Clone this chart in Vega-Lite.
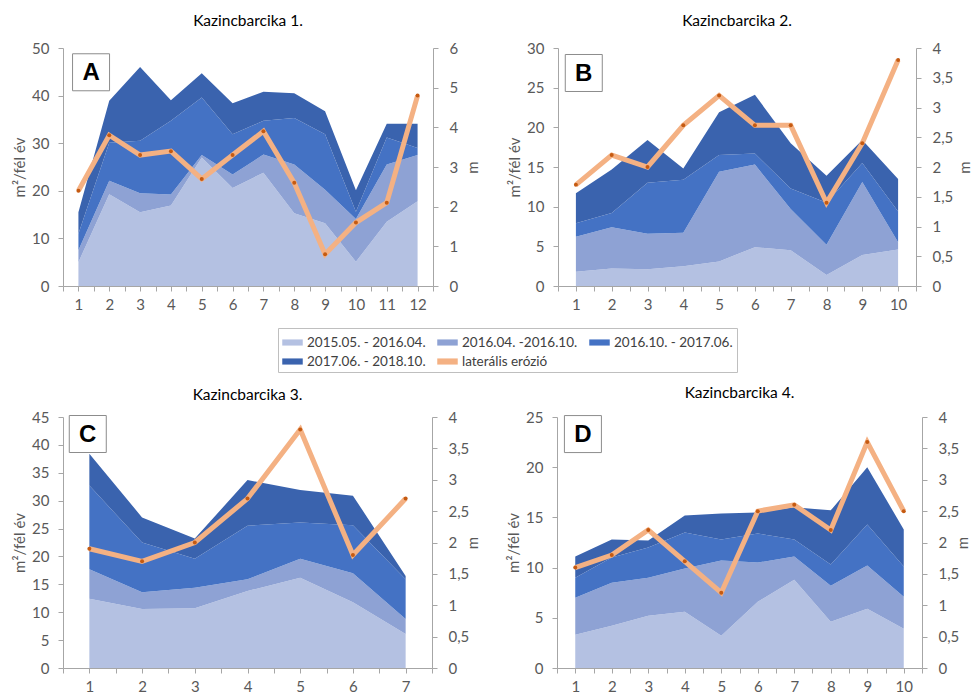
{
  "$schema": "https://vega.github.io/schema/vega-lite/v6.json",
  "background": "white",
  "padding": {"left": 12, "top": 13, "right": 0, "bottom": 0},
  "config": {
    "font": "Lato",
    "view": {"stroke": null},
    "axis": {"grid": false, "domainColor": "#a6a6a6", "tickColor": "#a6a6a6", "labelColor": "#595959", "labelFontSize": 15, "titleColor": "#595959", "titleFontSize": 15, "titleFontWeight": "normal", "tickSize": 5, "labelFont": "Lato", "titleFont": "Lato"},
    "title": {"fontSize": 15.5, "fontWeight": "normal", "color": "#000000", "font": "Lato"}
  },
  "datasets": {
    "areas": [
      {"panel":"A","x":1,"period":"2015.05. - 2016.04.","v":5},{"panel":"A","x":1,"period":"2016.04. -2016.10.","v":2.5},{"panel":"A","x":1,"period":"2016.10. - 2017.06.","v":3.5},{"panel":"A","x":1,"period":"2017.06. - 2018.10.","v":4.5},
      {"panel":"A","x":2,"period":"2015.05. - 2016.04.","v":19.3},{"panel":"A","x":2,"period":"2016.04. -2016.10.","v":2.8},{"panel":"A","x":2,"period":"2016.10. - 2017.06.","v":8},{"panel":"A","x":2,"period":"2017.06. - 2018.10.","v":8.8},
      {"panel":"A","x":3,"period":"2015.05. - 2016.04.","v":15.5},{"panel":"A","x":3,"period":"2016.04. -2016.10.","v":4},{"panel":"A","x":3,"period":"2016.10. - 2017.06.","v":11},{"panel":"A","x":3,"period":"2017.06. - 2018.10.","v":15.5},
      {"panel":"A","x":4,"period":"2015.05. - 2016.04.","v":16.9},{"panel":"A","x":4,"period":"2016.04. -2016.10.","v":2.3},{"panel":"A","x":4,"period":"2016.10. - 2017.06.","v":15.5},{"panel":"A","x":4,"period":"2017.06. - 2018.10.","v":4.3},
      {"panel":"A","x":5,"period":"2015.05. - 2016.04.","v":27},{"panel":"A","x":5,"period":"2016.04. -2016.10.","v":0.5},{"panel":"A","x":5,"period":"2016.10. - 2017.06.","v":12.1},{"panel":"A","x":5,"period":"2017.06. - 2018.10.","v":5.1},
      {"panel":"A","x":6,"period":"2015.05. - 2016.04.","v":20.6},{"panel":"A","x":6,"period":"2016.04. -2016.10.","v":2.8},{"panel":"A","x":6,"period":"2016.10. - 2017.06.","v":8.5},{"panel":"A","x":6,"period":"2017.06. - 2018.10.","v":6.5},
      {"panel":"A","x":7,"period":"2015.05. - 2016.04.","v":23.8},{"panel":"A","x":7,"period":"2016.04. -2016.10.","v":3.8},{"panel":"A","x":7,"period":"2016.10. - 2017.06.","v":7.1},{"panel":"A","x":7,"period":"2017.06. - 2018.10.","v":6.1},
      {"panel":"A","x":8,"period":"2015.05. - 2016.04.","v":15.3},{"panel":"A","x":8,"period":"2016.04. -2016.10.","v":10.2},{"panel":"A","x":8,"period":"2016.10. - 2017.06.","v":9.8},{"panel":"A","x":8,"period":"2017.06. - 2018.10.","v":5.2},
      {"panel":"A","x":9,"period":"2015.05. - 2016.04.","v":13.2},{"panel":"A","x":9,"period":"2016.04. -2016.10.","v":7},{"panel":"A","x":9,"period":"2016.10. - 2017.06.","v":11.7},{"panel":"A","x":9,"period":"2017.06. - 2018.10.","v":4.8},
      {"panel":"A","x":10,"period":"2015.05. - 2016.04.","v":5.1},{"panel":"A","x":10,"period":"2016.04. -2016.10.","v":9},{"panel":"A","x":10,"period":"2016.10. - 2017.06.","v":1.5},{"panel":"A","x":10,"period":"2017.06. - 2018.10.","v":4.5},
      {"panel":"A","x":11,"period":"2015.05. - 2016.04.","v":13.5},{"panel":"A","x":11,"period":"2016.04. -2016.10.","v":12},{"panel":"A","x":11,"period":"2016.10. - 2017.06.","v":5.7},{"panel":"A","x":11,"period":"2017.06. - 2018.10.","v":2.9},
      {"panel":"A","x":12,"period":"2015.05. - 2016.04.","v":17.8},{"panel":"A","x":12,"period":"2016.04. -2016.10.","v":9.7},{"panel":"A","x":12,"period":"2016.10. - 2017.06.","v":1.5},{"panel":"A","x":12,"period":"2017.06. - 2018.10.","v":5.1},
      {"panel":"B","x":1,"period":"2015.05. - 2016.04.","v":1.8},{"panel":"B","x":1,"period":"2016.04. -2016.10.","v":4.4},{"panel":"B","x":1,"period":"2016.10. - 2017.06.","v":1.7},{"panel":"B","x":1,"period":"2017.06. - 2018.10.","v":3.8},
      {"panel":"B","x":2,"period":"2015.05. - 2016.04.","v":2.2},{"panel":"B","x":2,"period":"2016.04. -2016.10.","v":5.2},{"panel":"B","x":2,"period":"2016.10. - 2017.06.","v":1.8},{"panel":"B","x":2,"period":"2017.06. - 2018.10.","v":5.5},
      {"panel":"B","x":3,"period":"2015.05. - 2016.04.","v":2.1},{"panel":"B","x":3,"period":"2016.04. -2016.10.","v":4.5},{"panel":"B","x":3,"period":"2016.10. - 2017.06.","v":6.4},{"panel":"B","x":3,"period":"2017.06. - 2018.10.","v":5.4},
      {"panel":"B","x":4,"period":"2015.05. - 2016.04.","v":2.5},{"panel":"B","x":4,"period":"2016.04. -2016.10.","v":4.2},{"panel":"B","x":4,"period":"2016.10. - 2017.06.","v":6.7},{"panel":"B","x":4,"period":"2017.06. - 2018.10.","v":1.4},
      {"panel":"B","x":5,"period":"2015.05. - 2016.04.","v":3.1},{"panel":"B","x":5,"period":"2016.04. -2016.10.","v":11.3},{"panel":"B","x":5,"period":"2016.10. - 2017.06.","v":2.1},{"panel":"B","x":5,"period":"2017.06. - 2018.10.","v":5.4},
      {"panel":"B","x":6,"period":"2015.05. - 2016.04.","v":4.9},{"panel":"B","x":6,"period":"2016.04. -2016.10.","v":10.4},{"panel":"B","x":6,"period":"2016.10. - 2017.06.","v":1.4},{"panel":"B","x":6,"period":"2017.06. - 2018.10.","v":7.4},
      {"panel":"B","x":7,"period":"2015.05. - 2016.04.","v":4.5},{"panel":"B","x":7,"period":"2016.04. -2016.10.","v":5.2},{"panel":"B","x":7,"period":"2016.10. - 2017.06.","v":2.6},{"panel":"B","x":7,"period":"2017.06. - 2018.10.","v":5.7},
      {"panel":"B","x":8,"period":"2015.05. - 2016.04.","v":1.4},{"panel":"B","x":8,"period":"2016.04. -2016.10.","v":3.8},{"panel":"B","x":8,"period":"2016.10. - 2017.06.","v":5.3},{"panel":"B","x":8,"period":"2017.06. - 2018.10.","v":3.4},
      {"panel":"B","x":9,"period":"2015.05. - 2016.04.","v":3.9},{"panel":"B","x":9,"period":"2016.04. -2016.10.","v":9.2},{"panel":"B","x":9,"period":"2016.10. - 2017.06.","v":2.4},{"panel":"B","x":9,"period":"2017.06. - 2018.10.","v":2.9},
      {"panel":"B","x":10,"period":"2015.05. - 2016.04.","v":4.6},{"panel":"B","x":10,"period":"2016.04. -2016.10.","v":0.9},{"panel":"B","x":10,"period":"2016.10. - 2017.06.","v":3.9},{"panel":"B","x":10,"period":"2017.06. - 2018.10.","v":4.1},
      {"panel":"C","x":1,"period":"2015.05. - 2016.04.","v":12.4},{"panel":"C","x":1,"period":"2016.04. -2016.10.","v":5.3},{"panel":"C","x":1,"period":"2016.10. - 2017.06.","v":15},{"panel":"C","x":1,"period":"2017.06. - 2018.10.","v":5.7},
      {"panel":"C","x":2,"period":"2015.05. - 2016.04.","v":10.6},{"panel":"C","x":2,"period":"2016.04. -2016.10.","v":3},{"panel":"C","x":2,"period":"2016.10. - 2017.06.","v":8.9},{"panel":"C","x":2,"period":"2017.06. - 2018.10.","v":4.5},
      {"panel":"C","x":3,"period":"2015.05. - 2016.04.","v":10.7},{"panel":"C","x":3,"period":"2016.04. -2016.10.","v":3.7},{"panel":"C","x":3,"period":"2016.10. - 2017.06.","v":5.2},{"panel":"C","x":3,"period":"2017.06. - 2018.10.","v":3.6},
      {"panel":"C","x":4,"period":"2015.05. - 2016.04.","v":13.8},{"panel":"C","x":4,"period":"2016.04. -2016.10.","v":2.1},{"panel":"C","x":4,"period":"2016.10. - 2017.06.","v":9.6},{"panel":"C","x":4,"period":"2017.06. - 2018.10.","v":8.2},
      {"panel":"C","x":5,"period":"2015.05. - 2016.04.","v":16.2},{"panel":"C","x":5,"period":"2016.04. -2016.10.","v":3.4},{"panel":"C","x":5,"period":"2016.10. - 2017.06.","v":6.5},{"panel":"C","x":5,"period":"2017.06. - 2018.10.","v":5.8},
      {"panel":"C","x":6,"period":"2015.05. - 2016.04.","v":11.8},{"panel":"C","x":6,"period":"2016.04. -2016.10.","v":5.2},{"panel":"C","x":6,"period":"2016.10. - 2017.06.","v":8.6},{"panel":"C","x":6,"period":"2017.06. - 2018.10.","v":5.3},
      {"panel":"C","x":7,"period":"2015.05. - 2016.04.","v":6.1},{"panel":"C","x":7,"period":"2016.04. -2016.10.","v":2.7},{"panel":"C","x":7,"period":"2016.10. - 2017.06.","v":7.1},{"panel":"C","x":7,"period":"2017.06. - 2018.10.","v":0.6},
      {"panel":"D","x":1,"period":"2015.05. - 2016.04.","v":3.3},{"panel":"D","x":1,"period":"2016.04. -2016.10.","v":3.7},{"panel":"D","x":1,"period":"2016.10. - 2017.06.","v":2},{"panel":"D","x":1,"period":"2017.06. - 2018.10.","v":2.1},
      {"panel":"D","x":2,"period":"2015.05. - 2016.04.","v":4.2},{"panel":"D","x":2,"period":"2016.04. -2016.10.","v":4.3},{"panel":"D","x":2,"period":"2016.10. - 2017.06.","v":2.5},{"panel":"D","x":2,"period":"2017.06. - 2018.10.","v":1.8},
      {"panel":"D","x":3,"period":"2015.05. - 2016.04.","v":5.2},{"panel":"D","x":3,"period":"2016.04. -2016.10.","v":3.8},{"panel":"D","x":3,"period":"2016.10. - 2017.06.","v":3},{"panel":"D","x":3,"period":"2017.06. - 2018.10.","v":0.7},
      {"panel":"D","x":4,"period":"2015.05. - 2016.04.","v":5.6},{"panel":"D","x":4,"period":"2016.04. -2016.10.","v":4.3},{"panel":"D","x":4,"period":"2016.10. - 2017.06.","v":3.6},{"panel":"D","x":4,"period":"2017.06. - 2018.10.","v":1.7},
      {"panel":"D","x":5,"period":"2015.05. - 2016.04.","v":3.2},{"panel":"D","x":5,"period":"2016.04. -2016.10.","v":7.5},{"panel":"D","x":5,"period":"2016.10. - 2017.06.","v":2.1},{"panel":"D","x":5,"period":"2017.06. - 2018.10.","v":2.6},
      {"panel":"D","x":6,"period":"2015.05. - 2016.04.","v":6.6},{"panel":"D","x":6,"period":"2016.04. -2016.10.","v":3.9},{"panel":"D","x":6,"period":"2016.10. - 2017.06.","v":2.9},{"panel":"D","x":6,"period":"2017.06. - 2018.10.","v":2.1},
      {"panel":"D","x":7,"period":"2015.05. - 2016.04.","v":8.8},{"panel":"D","x":7,"period":"2016.04. -2016.10.","v":2.3},{"panel":"D","x":7,"period":"2016.10. - 2017.06.","v":1.7},{"panel":"D","x":7,"period":"2017.06. - 2018.10.","v":3.2},
      {"panel":"D","x":8,"period":"2015.05. - 2016.04.","v":4.6},{"panel":"D","x":8,"period":"2016.04. -2016.10.","v":3.6},{"panel":"D","x":8,"period":"2016.10. - 2017.06.","v":2.1},{"panel":"D","x":8,"period":"2017.06. - 2018.10.","v":5.4},
      {"panel":"D","x":9,"period":"2015.05. - 2016.04.","v":5.9},{"panel":"D","x":9,"period":"2016.04. -2016.10.","v":4.3},{"panel":"D","x":9,"period":"2016.10. - 2017.06.","v":4.1},{"panel":"D","x":9,"period":"2017.06. - 2018.10.","v":5.7},
      {"panel":"D","x":10,"period":"2015.05. - 2016.04.","v":3.9},{"panel":"D","x":10,"period":"2016.04. -2016.10.","v":3.2},{"panel":"D","x":10,"period":"2016.10. - 2017.06.","v":3},{"panel":"D","x":10,"period":"2017.06. - 2018.10.","v":3.7}
    ],
    "erosion": [
      {"panel":"A","x":1,"m":2.4},{"panel":"A","x":2,"m":3.8},{"panel":"A","x":3,"m":3.3},{"panel":"A","x":4,"m":3.4},{"panel":"A","x":5,"m":2.7},{"panel":"A","x":6,"m":3.3},{"panel":"A","x":7,"m":3.9},{"panel":"A","x":8,"m":2.6},{"panel":"A","x":9,"m":0.8},{"panel":"A","x":10,"m":1.6},{"panel":"A","x":11,"m":2.1},{"panel":"A","x":12,"m":4.8},
      {"panel":"B","x":1,"m":1.7},{"panel":"B","x":2,"m":2.2},{"panel":"B","x":3,"m":2.0},{"panel":"B","x":4,"m":2.7},{"panel":"B","x":5,"m":3.2},{"panel":"B","x":6,"m":2.7},{"panel":"B","x":7,"m":2.7},{"panel":"B","x":8,"m":1.4},{"panel":"B","x":9,"m":2.4},{"panel":"B","x":10,"m":3.8},
      {"panel":"C","x":1,"m":1.9},{"panel":"C","x":2,"m":1.7},{"panel":"C","x":3,"m":2.0},{"panel":"C","x":4,"m":2.7},{"panel":"C","x":5,"m":3.8},{"panel":"C","x":6,"m":1.8},{"panel":"C","x":7,"m":2.7},
      {"panel":"D","x":1,"m":1.6},{"panel":"D","x":2,"m":1.8},{"panel":"D","x":3,"m":2.2},{"panel":"D","x":4,"m":1.7},{"panel":"D","x":5,"m":1.2},{"panel":"D","x":6,"m":2.5},{"panel":"D","x":7,"m":2.6},{"panel":"D","x":8,"m":2.2},{"panel":"D","x":9,"m":3.6},{"panel":"D","x":10,"m":2.5}
    ]
  },
  "spacing": 73,
  "vconcat": [
    {
      "spacing": 26,
      "hconcat": [
        {
          "title": {"text": "Kazincbarcika 1.", "offset": 12},
          "width": 370, "height": 238,
          "layer": [
            {
              "layer": [
                {
                  "data": {"name": "areas"},
                  "transform": [{"filter": "datum.panel === 'A'"}],
                  "mark": {"type": "area", "opacity": 1},
                  "encoding": {
                    "x": {"field": "x", "type": "quantitative", "scale": {"domain": [0.5, 12.5], "nice": false}, "axis": {"title": null, "tickCount": 200, "values": [0.5,1,1.5,2,2.5,3,3.5,4,4.5,5,5.5,6,6.5,7,7.5,8,8.5,9,9.5,10,10.5,11,11.5,12,12.5], "labelExpr": "datum.value % 1 === 0 ? format(datum.value, 'd') : ''", "labelOverlap": false, "labelFlush": false, "labelPadding": 6, "encode": {"ticks": {"update": {"opacity": {"signal": "datum.value % 1 === 0 ? 0 : 1"}}}}}},
                    "y": {"field": "v", "type": "quantitative", "stack": "zero", "scale": {"domain": [0, 50], "nice": false}, "axis": {"title": "m²/fél év", "tickCount": 200, "format": "d", "values": [0,10,20,30,40,50], "labelPadding": 9, "titlePadding": 4}},
                    "color": {"field": "period", "type": "nominal",
                      "scale": {"domain": ["2015.05. - 2016.04.", "2016.04. -2016.10.", "2016.10. - 2017.06.", "2017.06. - 2018.10.", "laterális erózió"], "range": ["#b4c1e2", "#8ea2d4", "#4472c4", "#3a63ae", "#f4b183"]},
                      "legend": {"title": null, "orient": "none", "legendX": 215, "legendY": 280, "columns": 3, "direction": "horizontal", "labelFontSize": 13.5, "labelColor": "#404040", "labelFont": "Lato", "symbolType": "M-1,-0.3H1V0.3H-1Z", "symbolSize": 420, "symbolStrokeWidth": 0, "strokeColor": "#bfbfbf", "padding": 4, "columnPadding": 11, "rowPadding": 2, "labelOffset": 4,
                        "encode": {"symbols": {"update": {"shape": {"signal": "datum.value === 'laterális erózió' ? 'M-1,-0.18H1V0.18H-1Z' : 'M-1,-0.3H1V0.3H-1Z'"}, "fill": {"scale": "color", "field": "value"}, "strokeWidth": {"value": 0}}}}}},
                    "order": {"field": "period", "sort": "ascending"}
                  }
                },
                {
                  "data": {"values": [{}]},
                  "mark": {"type": "point", "shape": "square", "size": 1369, "filled": true, "fill": "white", "stroke": "#8c8c8c", "strokeWidth": 1, "opacity": 1},
                  "encoding": {"x": {"datum": 1.41, "type": "quantitative"}, "y": {"datum": 44.9, "type": "quantitative"}}
                },
                {
                  "data": {"values": [{}]},
                  "mark": {"type": "text", "text": "A", "font": "Liberation Sans", "fontWeight": "bold", "fontSize": 24, "color": "#000000", "align": "center", "baseline": "middle", "dy": 1},
                  "encoding": {"x": {"datum": 1.41, "type": "quantitative"}, "y": {"datum": 44.9, "type": "quantitative"}}
                }
              ]
            },
            {
              "data": {"name": "erosion"},
              "transform": [{"filter": "datum.panel === 'A'"}],
              "layer": [
                {
                  "mark": {"type": "line", "strokeWidth": 5},
                  "encoding": {
                    "x": {"field": "x", "type": "quantitative"},
                    "y": {"field": "m", "type": "quantitative", "scale": {"domain": [0, 6], "nice": false}, "axis": {"orient": "right", "title": "m", "titleAngle": 270, "tickCount": 200, "values": [0,1,2,3,4,5,6], "labelExpr": "replace(format(datum.value, '~g'), '.', ',')", "labelPadding": 11, "titlePadding": 23}},
                    "color": {"datum": "laterális erózió"}
                  }
                },
                {
                  "mark": {"type": "point", "filled": true, "size": 16, "color": "#c55a11", "opacity": 1},
                  "encoding": {"x": {"field": "x", "type": "quantitative"}, "y": {"field": "m", "type": "quantitative"}}
                }
              ]
            }
          ],
          "resolve": {"scale": {"y": "independent"}}
        },
        {
          "title": {"text": "Kazincbarcika 2.", "offset": 12},
          "width": 358, "height": 238,
          "layer": [
            {
              "layer": [
                {
                  "data": {"name": "areas"},
                  "transform": [{"filter": "datum.panel === 'B'"}],
                  "mark": {"type": "area", "opacity": 1},
                  "encoding": {
                    "x": {"field": "x", "type": "quantitative", "scale": {"domain": [0.5, 10.5], "nice": false}, "axis": {"title": null, "tickCount": 200, "values": [0.5,1,1.5,2,2.5,3,3.5,4,4.5,5,5.5,6,6.5,7,7.5,8,8.5,9,9.5,10,10.5], "labelExpr": "datum.value % 1 === 0 ? format(datum.value, 'd') : ''", "labelOverlap": false, "labelFlush": false, "labelPadding": 6, "encode": {"ticks": {"update": {"opacity": {"signal": "datum.value % 1 === 0 ? 0 : 1"}}}}}},
                    "y": {"field": "v", "type": "quantitative", "stack": "zero", "scale": {"domain": [0, 30], "nice": false}, "axis": {"title": "m²/fél év", "tickCount": 200, "format": "d", "values": [0,5,10,15,20,25,30], "labelPadding": 9, "titlePadding": 4}},
                    "color": {"field": "period", "type": "nominal"},
                    "order": {"field": "period", "sort": "ascending"}
                  }
                },
                {
                  "data": {"values": [{}]},
                  "mark": {"type": "point", "shape": "square", "size": 1369, "filled": true, "fill": "white", "stroke": "#8c8c8c", "strokeWidth": 1, "opacity": 1},
                  "encoding": {"x": {"datum": 1.22, "type": "quantitative"}, "y": {"datum": 26.85, "type": "quantitative"}}
                },
                {
                  "data": {"values": [{}]},
                  "mark": {"type": "text", "text": "B", "font": "Liberation Sans", "fontWeight": "bold", "fontSize": 24, "color": "#000000", "align": "center", "baseline": "middle", "dy": 1},
                  "encoding": {"x": {"datum": 1.22, "type": "quantitative"}, "y": {"datum": 26.85, "type": "quantitative"}}
                }
              ]
            },
            {
              "data": {"name": "erosion"},
              "transform": [{"filter": "datum.panel === 'B'"}],
              "layer": [
                {
                  "mark": {"type": "line", "strokeWidth": 5},
                  "encoding": {
                    "x": {"field": "x", "type": "quantitative"},
                    "y": {"field": "m", "type": "quantitative", "scale": {"domain": [0, 4], "nice": false}, "axis": {"orient": "right", "title": "m", "titleAngle": 270, "tickCount": 200, "values": [0,0.5,1,1.5,2,2.5,3,3.5,4], "labelExpr": "replace(format(datum.value, '~g'), '.', ',')", "labelPadding": 11, "titlePadding": 20}},
                    "color": {"datum": "laterális erózió"}
                  }
                },
                {
                  "mark": {"type": "point", "filled": true, "size": 16, "color": "#c55a11", "opacity": 1},
                  "encoding": {"x": {"field": "x", "type": "quantitative"}, "y": {"field": "m", "type": "quantitative"}}
                }
              ]
            }
          ],
          "resolve": {"scale": {"y": "independent"}}
        }
      ]
    },
    {
      "spacing": 25,
      "hconcat": [
        {
          "title": {"text": "Kazincbarcika 3.", "offset": 7},
          "width": 369, "height": 251,
          "layer": [
            {
              "layer": [
                {
                  "data": {"name": "areas"},
                  "transform": [{"filter": "datum.panel === 'C'"}],
                  "mark": {"type": "area", "opacity": 1},
                  "encoding": {
                    "x": {"field": "x", "type": "quantitative", "scale": {"domain": [0.5, 7.5], "nice": false}, "axis": {"title": null, "tickCount": 200, "values": [0.5,1,1.5,2,2.5,3,3.5,4,4.5,5,5.5,6,6.5,7,7.5], "labelExpr": "datum.value % 1 === 0 ? format(datum.value, 'd') : ''", "labelOverlap": false, "labelFlush": false, "labelPadding": 6, "encode": {"ticks": {"update": {"opacity": {"signal": "datum.value % 1 === 0 ? 0 : 1"}}}}}},
                    "y": {"field": "v", "type": "quantitative", "stack": "zero", "scale": {"domain": [0, 45], "nice": false}, "axis": {"title": "m²/fél év", "tickCount": 200, "format": "d", "values": [0,5,10,15,20,25,30,35,40,45], "labelPadding": 9, "titlePadding": 4}},
                    "color": {"field": "period", "type": "nominal"},
                    "order": {"field": "period", "sort": "ascending"}
                  }
                },
                {
                  "data": {"values": [{}]},
                  "mark": {"type": "point", "shape": "square", "size": 1369, "filled": true, "fill": "white", "stroke": "#8c8c8c", "strokeWidth": 1, "opacity": 1},
                  "encoding": {"x": {"datum": 0.97, "type": "quantitative"}, "y": {"datum": 41.95, "type": "quantitative"}}
                },
                {
                  "data": {"values": [{}]},
                  "mark": {"type": "text", "text": "C", "font": "Liberation Sans", "fontWeight": "bold", "fontSize": 24, "color": "#000000", "align": "center", "baseline": "middle", "dy": 1},
                  "encoding": {"x": {"datum": 0.97, "type": "quantitative"}, "y": {"datum": 41.95, "type": "quantitative"}}
                }
              ]
            },
            {
              "data": {"name": "erosion"},
              "transform": [{"filter": "datum.panel === 'C'"}],
              "layer": [
                {
                  "mark": {"type": "line", "strokeWidth": 5},
                  "encoding": {
                    "x": {"field": "x", "type": "quantitative"},
                    "y": {"field": "m", "type": "quantitative", "scale": {"domain": [0, 4], "nice": false}, "axis": {"orient": "right", "title": "m", "titleAngle": 270, "tickCount": 200, "values": [0,0.5,1,1.5,2,2.5,3,3.5,4], "labelExpr": "replace(format(datum.value, '~g'), '.', ',')", "labelPadding": 11, "titlePadding": 12}},
                    "color": {"datum": "laterális erózió"}
                  }
                },
                {
                  "mark": {"type": "point", "filled": true, "size": 16, "color": "#c55a11", "opacity": 1},
                  "encoding": {"x": {"field": "x", "type": "quantitative"}, "y": {"field": "m", "type": "quantitative"}}
                }
              ]
            }
          ],
          "resolve": {"scale": {"y": "independent"}}
        },
        {
          "title": {"text": "Kazincbarcika 4.", "offset": 9},
          "width": 365, "height": 251,
          "layer": [
            {
              "layer": [
                {
                  "data": {"name": "areas"},
                  "transform": [{"filter": "datum.panel === 'D'"}],
                  "mark": {"type": "area", "opacity": 1},
                  "encoding": {
                    "x": {"field": "x", "type": "quantitative", "scale": {"domain": [0.5, 10.5], "nice": false}, "axis": {"title": null, "tickCount": 200, "values": [0.5,1,1.5,2,2.5,3,3.5,4,4.5,5,5.5,6,6.5,7,7.5,8,8.5,9,9.5,10,10.5], "labelExpr": "datum.value % 1 === 0 ? format(datum.value, 'd') : ''", "labelOverlap": false, "labelFlush": false, "labelPadding": 6, "encode": {"ticks": {"update": {"opacity": {"signal": "datum.value % 1 === 0 ? 0 : 1"}}}}}},
                    "y": {"field": "v", "type": "quantitative", "stack": "zero", "scale": {"domain": [0, 25], "nice": false}, "axis": {"title": "m²/fél év", "tickCount": 200, "format": "d", "values": [0,5,10,15,20,25], "labelPadding": 9, "titlePadding": 4}},
                    "color": {"field": "period", "type": "nominal"},
                    "order": {"field": "period", "sort": "ascending"}
                  }
                },
                {
                  "data": {"values": [{}]},
                  "mark": {"type": "point", "shape": "square", "size": 1369, "filled": true, "fill": "white", "stroke": "#8c8c8c", "strokeWidth": 1, "opacity": 1},
                  "encoding": {"x": {"datum": 1.21, "type": "quantitative"}, "y": {"datum": 23.3, "type": "quantitative"}}
                },
                {
                  "data": {"values": [{}]},
                  "mark": {"type": "text", "text": "D", "font": "Liberation Sans", "fontWeight": "bold", "fontSize": 24, "color": "#000000", "align": "center", "baseline": "middle", "dy": 1},
                  "encoding": {"x": {"datum": 1.21, "type": "quantitative"}, "y": {"datum": 23.3, "type": "quantitative"}}
                }
              ]
            },
            {
              "data": {"name": "erosion"},
              "transform": [{"filter": "datum.panel === 'D'"}],
              "layer": [
                {
                  "mark": {"type": "line", "strokeWidth": 5},
                  "encoding": {
                    "x": {"field": "x", "type": "quantitative"},
                    "y": {"field": "m", "type": "quantitative", "scale": {"domain": [0, 4], "nice": false}, "axis": {"orient": "right", "title": "m", "titleAngle": 270, "tickCount": 200, "values": [0,0.5,1,1.5,2,2.5,3,3.5,4], "labelExpr": "replace(format(datum.value, '~g'), '.', ',')", "labelPadding": 11, "titlePadding": 12}},
                    "color": {"datum": "laterális erózió"}
                  }
                },
                {
                  "mark": {"type": "point", "filled": true, "size": 16, "color": "#c55a11", "opacity": 1},
                  "encoding": {"x": {"field": "x", "type": "quantitative"}, "y": {"field": "m", "type": "quantitative"}}
                }
              ]
            }
          ],
          "resolve": {"scale": {"y": "independent"}}
        }
      ]
    }
  ]
}
